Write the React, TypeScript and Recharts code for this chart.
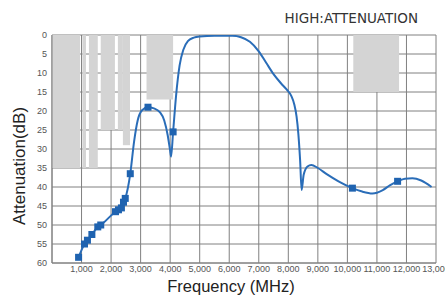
import React from 'react';
import {
  ComposedChart,
  Line,
  Scatter,
  XAxis,
  YAxis,
  CartesianGrid,
  ReferenceArea,
  Customized,
} from 'recharts';

// Frequency response curve (MHz, dB attenuation)
const curveFreq = [
  900, 1100, 1200, 1350, 1550, 1650, 2150, 2250, 2350, 2420, 2480, 2650, 2780, 2900, 3050,
  3250, 3450, 3650, 3800, 3920, 4000, 4030, 4100, 4200, 4320, 4450, 4600, 4800, 5000, 5500,
  6100, 6400, 6700, 7000, 7250, 7500, 7750, 7950, 8100, 8200, 8280, 8340, 8400, 8450, 8520,
  8650, 8780, 9000, 9300, 9700, 10170, 10500, 10850, 11200, 11450, 11700, 11950, 12200, 12500,
  12850,
];
const curveAtten = [
  58.5, 55, 54, 52.5, 50.5, 50, 46.5, 46, 45.5, 44, 43, 36.5, 28, 22.5, 19.8,
  19, 19.3, 20.3, 22.5, 26.5, 30.5, 32, 25.5, 16, 8, 3.8, 1.6, 0.7, 0.4, 0.2,
  0.2, 0.6, 1.8, 4.3, 7.3, 10.3, 12.7, 14.4, 16, 18.2, 21.5, 26, 33, 40.8, 36.8,
  34.6, 34.2, 35, 36.6, 38.5, 40.3, 41.2, 41.7, 40.8, 39.5, 38.5, 37.8, 37.7, 38.3,
  40,
];

// Measured points (square markers)
const markerFreq = [900, 1100, 1200, 1350, 1550, 1650, 2150, 2250, 2350, 2420, 2480, 2650, 3250, 4100, 10170, 11700];
const markerAtten = [58.5, 55, 54, 52.5, 50.5, 50, 46.5, 46, 45.5, 44, 43, 36.5, 19, 25.5, 40.3, 38.5];

// Specification mask regions (grey blocks hanging from 0 dB)
const maskStart = [0, 1030, 1250, 1650, 2230, 2400, 3200, 10200];
const maskEnd = [950, 1150, 1550, 2130, 2400, 2640, 4100, 11750];
const maskDepth = [35, 35, 35, 25, 25, 29, 17, 15];

const xTicks = [0, 1000, 2000, 3000, 4000, 5000, 6000, 7000, 8000, 9000, 10000, 11000, 12000, 13000];
const yTicks = [0, 5, 10, 15, 20, 25, 30, 35, 40, 45, 50, 55, 60];

const titleText = 'HIGH:ATTENUATION';
const xLabel = 'Frequency (MHz)';
const yLabel = 'Attenuation(dB)';

const curveData = curveFreq.map((f, i) => ({ f, a: curveAtten[i] }));
const markerData = markerFreq.map((f, i) => ({ f, a: markerAtten[i] }));

const fmt = (v: number) => (v === 0 ? '' : v.toLocaleString('en-US'));

const SquareMarker = (p: any) => {
  const s = 7;
  return <rect x={p.cx - s / 2} y={p.cy - s / 2} width={s} height={s} fill="#1f63b0" />;
};

const Labels = () => (
  <g>
    <text x={418} y={23} textAnchor="end" fontFamily="DejaVu Sans" fontSize={13.5} fill="#333">
      {titleText}
    </text>
    <text x={231} y={292} textAnchor="middle" fontFamily="Liberation Sans" fontSize={16.5} fill="#222">
      {xLabel}
    </text>
    <text
      x={25}
      y={166}
      textAnchor="middle"
      fontFamily="Liberation Sans"
      fontSize={17}
      fill="#222"
      transform="rotate(-90 25 166)"
    >
      {yLabel}
    </text>
  </g>
);

export default function App() {
  return (
    <div style={{ position: 'absolute', left: 0, top: 0, width: 445, height: 299, background: '#fff' }}>
      <ComposedChart
        width={445}
        height={299}
        margin={{ top: 35, right: 9, bottom: 6, left: 22 }}
      >
        <CartesianGrid stroke="#808080" strokeWidth={1} horizontalValues={yTicks} verticalValues={xTicks} />
        <XAxis
          type="number"
          dataKey="f"
          domain={[0, 13000]}
          ticks={xTicks}
          tickFormatter={fmt}
          allowDataOverflow
          height={30}
          tickLine={false}
          tickSize={0}
          tickMargin={3}
          axisLine={{ stroke: '#808080' }}
          tick={{ fontSize: 9, fill: '#555', fontFamily: 'Liberation Sans' }}
          interval={0}
        />
        <YAxis
          type="number"
          dataKey="a"
          domain={[0, 60]}
          reversed
          ticks={yTicks}
          allowDataOverflow
          width={30}
          tickLine={false}
          tickSize={0}
          tickMargin={5}
          axisLine={{ stroke: '#808080' }}
          tick={{ fontSize: 9, fill: '#555', fontFamily: 'Liberation Sans' }}
          interval={0}
        />
        {maskStart.map((s, i) => (
          <ReferenceArea
            key={i}
            x1={s}
            x2={maskEnd[i]}
            y1={0}
            y2={maskDepth[i]}
            fill="#d4d4d4"
            fillOpacity={1}
            stroke="none"
            ifOverflow="hidden"
          />
        ))}
        <Line
          data={curveData}
          dataKey="a"
          type="monotone"
          stroke="#2a6db8"
          strokeWidth={2}
          dot={false}
          activeDot={false}
          isAnimationActive={false}
        />
        <Scatter data={markerData} dataKey="a" shape={SquareMarker} isAnimationActive={false} />
        <Customized component={Labels} />
      </ComposedChart>
    </div>
  );
}
